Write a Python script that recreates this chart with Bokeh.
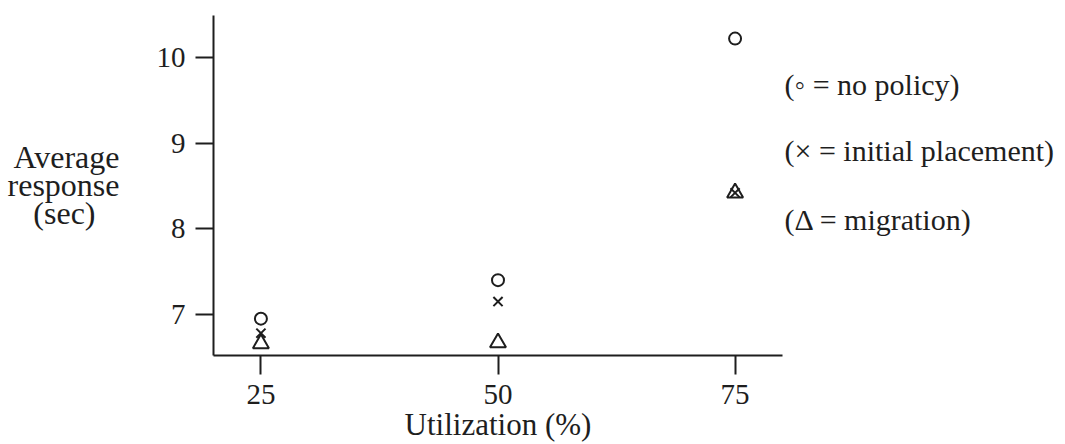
from bokeh.plotting import figure
from bokeh.models import FixedTicker, LinearAxis, Range1d
from bokeh.embed import file_html
from bokeh.resources import INLINE

# ---- data ----
utilization = [25, 50, 75]
no_policy = [6.95, 7.40, 10.22]
initial_placement = [6.78, 7.15, 8.42]
migration = [6.66, 6.67, 8.42]
x_ticks = [25, 50, 75]
y_ticks = [7, 8, 9, 10]
y_title_lines = ["Average", "response", "(sec)"]
y_title_rows = [8.833, 8.506, 8.179]   # vertical placement of the title lines
x_title = "Utilization (%)"
key_texts = ["(\u25e6 = no policy)", "(\u00d7 = initial placement)", "(\u0394 = migration)"]
key_rows = [9.69, 8.91, 8.11]          # vertical placement of the symbol key lines

FONT = "Liberation Serif"
INK = "#1e1e1e"
NBSP = "\u00a0"

p = figure(width=1065, height=444,
           x_range=Range1d(20, 80), y_range=Range1d(6.52, 10.49),
           output_backend="svg", toolbar_location=None,
           min_border_left=213, min_border_right=283,
           min_border_top=15, min_border_bottom=89)
p.outline_line_color = None
p.xgrid.visible = False
p.ygrid.visible = False
p.background_fill_color = "white"
p.border_fill_color = "white"

for ax in (p.xaxis, p.yaxis):
    ax.axis_line_width = 2
    ax.axis_line_color = INK
    ax.major_tick_line_width = 2
    ax.major_tick_line_color = INK
    ax.major_tick_in = 0
    ax.minor_tick_in = 0
    ax.minor_tick_out = 0
    ax.major_label_text_font = FONT
    ax.major_label_text_font_size = "29px"
    ax.major_label_text_color = INK
    ax.axis_label_text_font = FONT
    ax.axis_label_text_font_size = "31px"
    ax.axis_label_text_font_style = "normal"
    ax.axis_label_text_color = INK

p.xaxis.ticker = FixedTicker(ticks=x_ticks)
p.yaxis.ticker = FixedTicker(ticks=y_ticks)
p.xaxis.major_tick_out = 19
p.yaxis.major_tick_out = 18
p.xaxis.major_label_standoff = 10
p.yaxis.major_label_standoff = 10

p.xaxis.axis_label = x_title
p.xaxis.axis_label_standoff = 0

# y title: three lines carried by a bare left-hand axis; the labels are
# right-aligned by Bokeh, so short lines get trailing no-break spaces to centre them
pad = {"(sec)": 3}
title_overrides = {v: t + NBSP * pad.get(t, 0) for v, t in zip(y_title_rows, y_title_lines)}
title_axis = LinearAxis(ticker=FixedTicker(ticks=y_title_rows),
                        major_label_overrides=title_overrides,
                        axis_line_color=None, major_tick_line_color=None,
                        major_tick_in=0, major_tick_out=0,
                        minor_tick_in=0, minor_tick_out=0,
                        major_label_standoff=34,
                        major_label_text_font=FONT,
                        major_label_text_font_size="32px",
                        major_label_text_color=INK)
p.add_layout(title_axis, "left")

# symbol key drawn as a bare right-hand axis
key_axis = LinearAxis(ticker=FixedTicker(ticks=key_rows),
                      major_label_overrides={v: t for v, t in zip(key_rows, key_texts)},
                      axis_line_color=None, major_tick_line_color=None,
                      major_tick_in=0, major_tick_out=0,
                      minor_tick_in=0, minor_tick_out=0,
                      major_label_standoff=2,
                      major_label_text_font=FONT,
                      major_label_text_font_size="30px",
                      major_label_text_color=INK)
p.add_layout(key_axis, "right")

# markers
p.scatter(utilization, no_policy, marker="circle", size=12,
          fill_color=None, line_color=INK, line_width=2)
p.scatter(utilization, initial_placement, marker="x", size=13,
          line_color=INK, line_width=2)
p.scatter(utilization, migration, marker="triangle", size=16,
          fill_color=None, line_color=INK, line_width=2)

open("out.html", "w").write(file_html(p, INLINE))
